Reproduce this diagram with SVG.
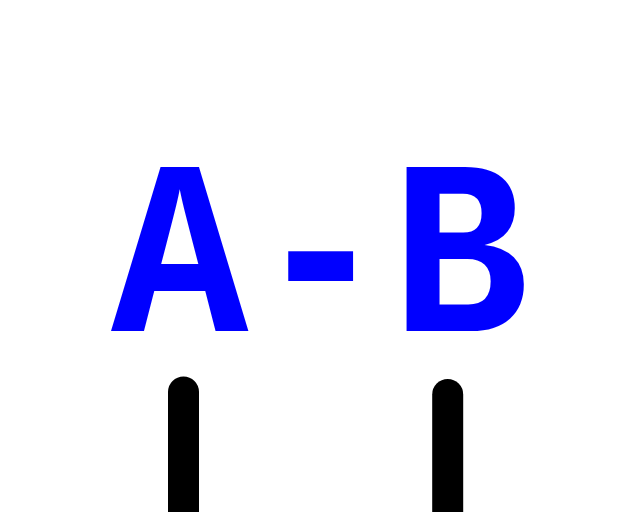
<svg xmlns="http://www.w3.org/2000/svg" width="638" height="512" viewBox="0 0 638 512">
<style>
.lbl{font-family:"Liberation Mono","DejaVu Sans Mono",monospace;font-weight:bold;fill:#0000ff;font-size:249px}
.conn{stroke:#000;stroke-width:31;stroke-linecap:round;fill:none}
</style>
<rect width="638" height="512" fill="#fff"/>
<g id="label" transform="scale(0.92,1)"><text class="lbl" x="120.7 273.9 425.3" y="331">A-B</text></g>
<g id="connectors">
<line class="conn" x1="183.5" y1="392" x2="183.5" y2="540"/>
<line class="conn" x1="447.7" y1="394.5" x2="447.7" y2="540"/>
</g>
</svg>
